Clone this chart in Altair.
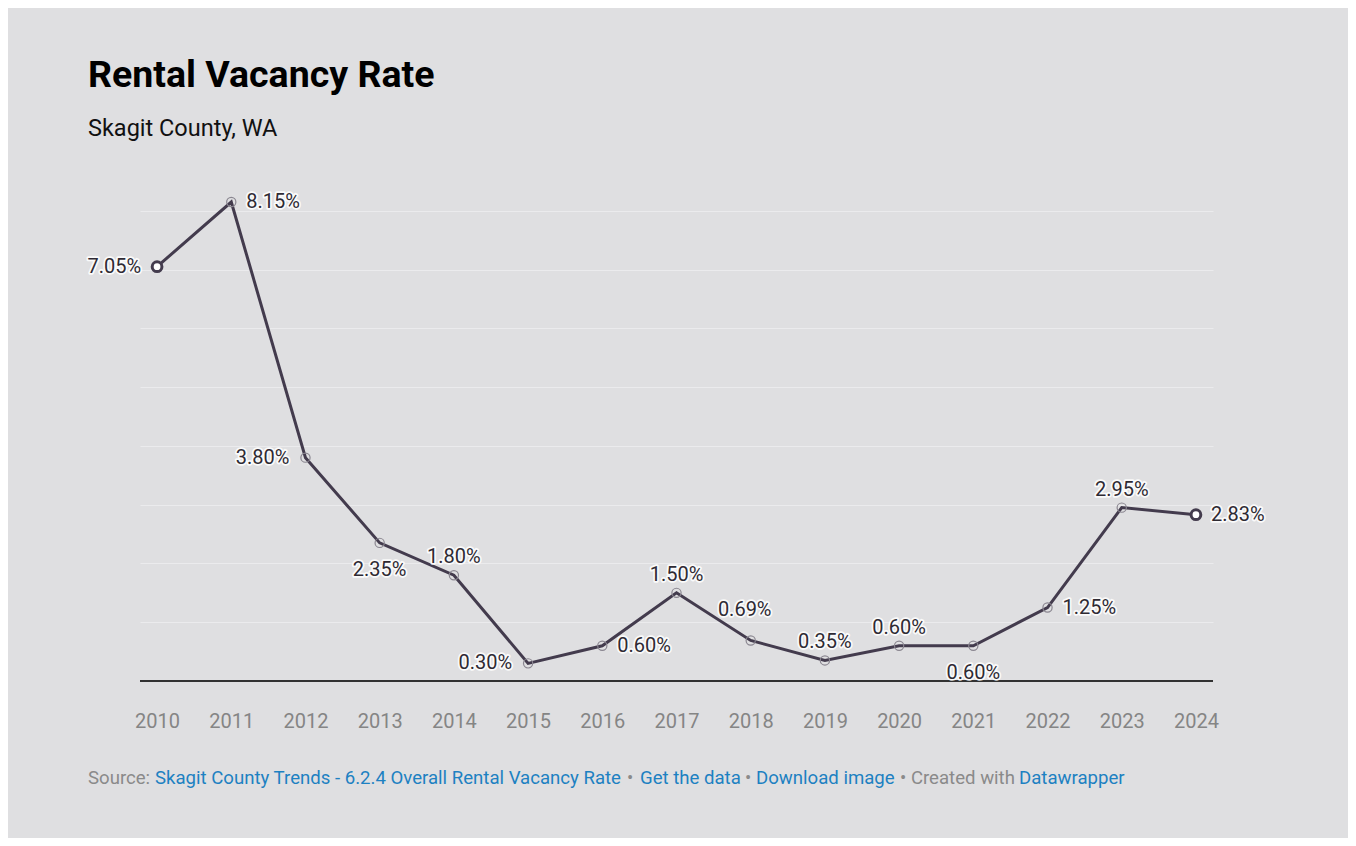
import altair as alt
import pandas as pd

YEARS = [2010, 2011, 2012, 2013, 2014, 2015, 2016, 2017, 2018, 2019, 2020, 2021, 2022, 2023, 2024]
VALUES = [7.05, 8.15, 3.80, 2.35, 1.80, 0.30, 0.60, 1.50, 0.69, 0.35, 0.60, 0.60, 1.25, 2.95, 2.83]

TITLE = "Rental Vacancy Rate"
SUBTITLE = "Skagit County, WA"

# label placement groups (style, kept in code)
LEFT = [2010, 2012, 2015]
RIGHT = [2011, 2016, 2022, 2024]
ABOVE = [2014, 2017, 2019, 2020, 2023]
ABOVE_SHIFT = [2018]
BELOW = [2013, 2021]
ENDS = [YEARS[0], YEARS[-1]]

df = pd.DataFrame({"year": [str(y) for y in YEARS], "value": VALUES})
df["label"] = [f"{v:.2f}%" for v in VALUES]
df["yr"] = YEARS

BG = "#dfdfe1"
LINE = "#433b4d"
TXT = "#2e2a33"
FONT = "Roboto"

x = alt.X("year:O", scale=alt.Scale(type="point", padding=0.23),
          axis=alt.Axis(labelAngle=0, ticks=False, domain=False, labelColor="#858585",
                        labelFontSize=20, labelFont=FONT, labelPadding=30, title=None, grid=False))
y = alt.Y("value:Q", scale=alt.Scale(domain=[0, 8.15], nice=False, zero=True),
          axis=alt.Axis(values=[1, 2, 3, 4, 5, 6, 7, 8], grid=True, gridColor="#ebebed",
                        gridWidth=1, labels=False, ticks=False, domain=False, title=None))

base = alt.Chart(df).encode(x=x, y=y)

line = base.mark_line(color=LINE, strokeWidth=3)
mid_pts = base.mark_point(shape="circle", size=85, stroke="#8a8690", strokeWidth=1.2,
                          filled=False, opacity=1).transform_filter(
    alt.FieldOneOfPredicate(field="yr", oneOf=[y_ for y_ in YEARS if y_ not in ENDS]))
end_pts = base.mark_point(shape="circle", size=95, stroke=LINE, strokeWidth=3,
                          fill="white", filled=True, opacity=1).transform_filter(
    alt.FieldOneOfPredicate(field="yr", oneOf=ENDS))

baseline = alt.Chart(df).mark_rule(color="#333333", strokeWidth=1.5).encode(y=alt.datum(0))


def labels(years, **kw):
    out = []
    for halo in (True, False):
        extra = dict(stroke="white", strokeWidth=3.5, strokeJoin="round",
                     strokeOpacity=0.85) if halo else {}
        out.append(base.mark_text(font=FONT, fontSize=20, color=TXT if not halo else "white",
                                  **kw, **extra)
                   .encode(text="label:N")
                   .transform_filter(alt.FieldOneOfPredicate(field="yr", oneOf=years)))
    return out


lab = []
lab += labels(LEFT, align="right", baseline="middle", dx=-16)
lab += labels(RIGHT, align="left", baseline="middle", dx=15)
lab += labels(ABOVE, align="center", baseline="middle", dy=-18)
lab += labels(ABOVE_SHIFT, align="center", baseline="middle", dy=-30, dx=-6)
lab += labels(BELOW, align="center", baseline="middle", dy=27)

tdf = pd.DataFrame({"a": [0]})
OX = -52  # x=88 in page relative to plot at 140
title = alt.Chart(tdf).mark_text(text=TITLE, font=FONT, fontSize=37.5, fontWeight="bold",
                                 color="#000000", align="left", baseline="alphabetic").encode(
    x=alt.value(OX), y=alt.value(87 - 202))
subtitle = alt.Chart(tdf).mark_text(text=SUBTITLE, font=FONT, fontSize=23.5,
                                    color="#111111", align="left", baseline="alphabetic").encode(
    x=alt.value(OX), y=alt.value(136 - 202))

FOOT = [
    ("Source:", 88, "#8a8a8a"),
    ("Skagit County Trends - 6.2.4 Overall Rental Vacancy Rate", 155, "#1d81c2"),
    ("•", 627, "#8a8a8a"),
    ("Get the data", 640, "#1d81c2"),
    ("•", 745, "#8a8a8a"),
    ("Download image", 756, "#1d81c2"),
    ("• Created with", 900, "#8a8a8a"),
    ("Datawrapper", 1019, "#1d81c2"),
]
foot = []
for t, px, c in FOOT:
    foot.append(alt.Chart(tdf).mark_text(text=t, font=FONT, fontSize=18.6, color=c,
                                         align="left", baseline="middle").encode(
        x=alt.value(px - 140), y=alt.value(778 - 202)))

chart = alt.layer(line, baseline, mid_pts, end_pts, *lab, title, subtitle, *foot).properties(
    width=1073, height=479,
    autosize=alt.AutoSizeParams(type="none"),
    padding={"left": 132, "top": 194, "right": 135, "bottom": 157},
    background=BG,
).configure_view(stroke=None)

chart.save("out.html", embed_options={"renderer": "svg", "actions": False})
